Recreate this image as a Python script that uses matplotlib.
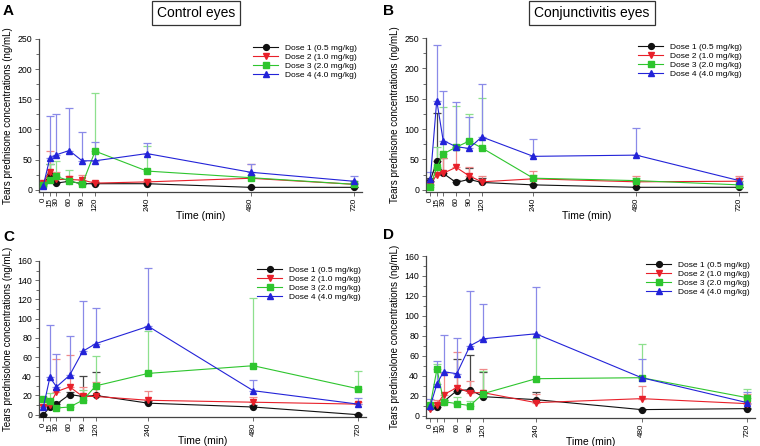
import numpy as np
import matplotlib
matplotlib.use("Agg")
import matplotlib.pyplot as plt
from matplotlib.ticker import MultipleLocator

plt.rcParams['font.family'] = ['Liberation Sans', 'DejaVu Sans']

times = [0, 15, 30, 60, 90, 120, 240, 480, 720]
dose_labels = ["Dose 1 (0.5 mg/kg)", "Dose 2 (1.0 mg/kg)",
               "Dose 3 (2.0 mg/kg)", "Dose 4 (4.0 mg/kg)"]

# A: control eyes, prednisone (mean, upper SD)
a_mean = [[10, 24, 11, 14, 10, 10, 10, 4, 4],
          [12, 30, 17, 17, 16, 11, 13, 19, 9],
          [8, 16, 22, 15, 9, 64, 31, 20, 9],
          [7, 52, 58, 65, 48, 48, 60, 29, 14]]
a_sd = [[3, 18, 2, 3, 2, 3, 2, 1, 1],
        [3, 35, 13, 5, 9, 4, 3, 24, 2],
        [2, 26, 26, 17, 4, 97, 42, 5, 3],
        [5, 70, 68, 70, 47, 32, 18, 13, 9]]

# B: conjunctivitis eyes, prednisone
b_mean = [[15, 47, 27, 12, 17, 12, 8, 4, 4],
          [10, 24, 27, 37, 23, 13, 18, 13, 14],
          [5, 37, 59, 70, 80, 69, 19, 15, 8],
          [17, 147, 81, 71, 68, 87, 55, 57, 15]]
b_sd = [[4, 80, 26, 4, 18, 8, 2, 1, 1],
        [3, 24, 26, 30, 15, 9, 13, 10, 9],
        [2, 33, 77, 68, 45, 82, 6, 5, 2],
        [12, 91, 81, 73, 52, 87, 28, 44, 5]]

# C: control eyes, prednisolone
c_mean = [[0, 8, 11, 21, 19, 20, 12, 8, 0],
          [8, 10, 24, 29, 19, 19, 15, 13, 11],
          [16, 14, 7, 8, 15, 30, 43, 51, 27],
          [8, 39, 29, 41, 66, 74, 92, 25, 11]]
c_sd = [[1, 2, 2, 3, 21, 24, 2, 2, 1],
        [2, 2, 34, 33, 10, 15, 10, 5, 2],
        [2, 9, 2, 2, 11, 31, 44, 70, 19],
        [2, 54, 34, 41, 52, 37, 61, 11, 6]]

# D: conjunctivitis eyes, prednisolone
d_mean = [[9, 9, 14, 25, 26, 19, 16, 6, 7],
          [7, 11, 21, 28, 23, 23, 13, 17, 12],
          [11, 47, 14, 12, 10, 22, 37, 38, 18],
          [10, 32, 44, 42, 70, 77, 82, 38, 13]]
d_sd = [[2, 2, 2, 32, 35, 25, 8, 1, 1],
        [2, 5, 22, 36, 12, 24, 9, 13, 10],
        [2, 5, 2, 7, 5, 23, 41, 34, 9],
        [7, 23, 37, 36, 55, 35, 47, 19, 11]]

colors = ["#111111", "#e8202a", "#2ec52e", "#2323d8"]
err_colors = ["#444444", "#f08a8a", "#8ee08e", "#8a8ae8"]
markers = ["o", "v", "s", "^"]

W, H = 760, 446
fig = plt.figure(figsize=(W / 100, H / 100), dpi=100)


def px_axes(x, y, w, h):
    return fig.add_axes([x / W, 1 - (y + h) / H, w / W, h / H])


def draw_panel(ax, means, sds, ymax, ystep, ylabel):
    for i in range(4):
        m = np.array(means[i])
        s = np.array(sds[i])
        ax.errorbar(times, m, yerr=[np.zeros_like(s), s], fmt="none",
                    ecolor=err_colors[i], elinewidth=0.9, capsize=3,
                    capthick=0.9, zorder=2)
        ax.plot(times, m, color=colors[i], lw=0.8, marker=markers[i],
                ms=4.2, label=dose_labels[i], zorder=3)
    ax.set_xlim(-10, 738)
    ax.set_ylim(-ymax * 0.015, ymax)
    ax.set_xticks(times)
    ax.set_xticklabels([str(t) for t in times], rotation=90, fontsize=5.8)
    ax.yaxis.set_major_locator(MultipleLocator(ystep))
    ax.yaxis.set_minor_locator(MultipleLocator(ystep / 2))
    ax.tick_params(axis="y", labelsize=6.3, length=3, width=0.6, pad=2,
                   color="#555555")
    ax.tick_params(axis="y", which="minor", length=2, width=0.6, color="#555555")
    ax.tick_params(axis="x", length=3, width=0.6, pad=1, color="#555555")
    for sp in ["top", "right"]:
        ax.spines[sp].set_visible(False)
    for sp in ["left", "bottom"]:
        ax.spines[sp].set_color("#444444")
        ax.spines[sp].set_linewidth(0.9)
    ax.set_xlabel("Time (min)", fontsize=7.5, labelpad=0)
    ax.set_ylabel(ylabel, fontsize=7, labelpad=3)
    ax.legend(loc="upper right", fontsize=6, frameon=False, handlelength=3,
              labelspacing=0.15, borderaxespad=0.2, bbox_to_anchor=(1.0, 1.0))


ax_a = px_axes(39, 39, 323, 153)
ax_b = px_axes(426, 38, 321, 154)
ax_c = px_axes(39, 261, 327, 156)
ax_d = px_axes(426, 256, 329, 162)

draw_panel(ax_a, a_mean, a_sd, 250, 50, "Tears prednisone concentrations (ng/mL)")
draw_panel(ax_b, b_mean, b_sd, 250, 50, "Tears prednisone concentrations (ng/mL)")
draw_panel(ax_c, c_mean, c_sd, 160, 20, "Tears prednisolone concentrations (ng/mL)")
draw_panel(ax_d, d_mean, d_sd, 160, 20, "Tears prednisolone concentrations (ng/mL)")

box = dict(boxstyle="square,pad=0.35", fc="white", ec="#333333", lw=0.9)
fig.text(196 / W, 1 - 13 / H, "Control eyes", fontsize=10, ha="center",
         va="center", bbox=box)
fig.text(592 / W, 1 - 13 / H, "Conjunctivitis eyes", fontsize=10, ha="center",
         va="center", bbox=box)

for lbl, x, y in [("A", 3, 11), ("B", 383, 11), ("C", 3, 237), ("D", 383, 235)]:
    fig.text(x / W, 1 - y / H, lbl, fontsize=11, fontweight="bold",
             ha="left", va="center")

fig.savefig("out.png", dpi=100)
